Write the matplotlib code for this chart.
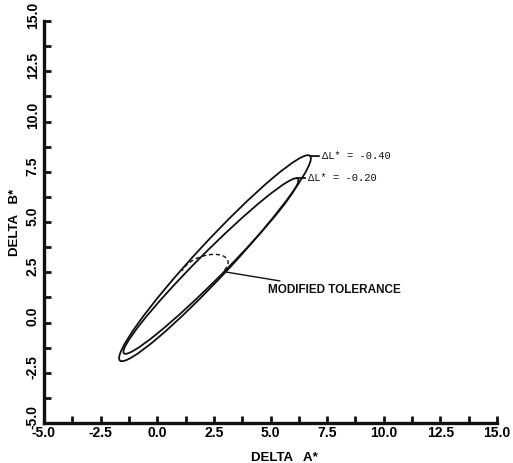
import matplotlib
matplotlib.use("Agg")
import matplotlib.pyplot as plt
from matplotlib.patches import Ellipse, Arc
from matplotlib.ticker import MultipleLocator
from matplotlib.transforms import ScaledTranslation

# tolerance ellipses (data units): centre, full width, full height, angle
ellipse_labels = ["\u0394L* = -0.40", "\u0394L* = -0.20"]
ellipse_centers = [(2.55, 3.20), (2.37, 2.81)]
ellipse_widths = [13.2, 11.6]
ellipse_heights = [1.60, 1.25]
ellipse_angles = [50.6, 48.6]
label_tips = [(6.74, 8.28), (6.17, 7.19)]
label_pos = [(7.27, 8.28), (6.66, 7.19)]

# modified tolerance (partial dashed ellipse)
mod_center = (2.11, 2.71)
mod_width = 2.15
mod_height = 1.18
mod_angle = 22
mod_theta = (-29, 166)
mod_tip = (3.04, 2.51)
mod_text_pos = (4.89, 1.62)

x_ticks = [-5.0, -2.5, 0.0, 2.5, 5.0, 7.5, 10.0, 12.5, 15.0]
y_ticks = [-5.0, -2.5, 0.0, 2.5, 5.0, 7.5, 10.0, 12.5, 15.0]

bold_font = ["Liberation Sans", "DejaVu Sans"]
mono_font = ["Liberation Mono", "DejaVu Sans Mono"]

fig = plt.figure(figsize=(5.13, 4.63), dpi=100)
ax = fig.add_axes([44 / 513, 40 / 463, 453 / 513, 402 / 463])

for c, w, h, a in zip(ellipse_centers, ellipse_widths, ellipse_heights, ellipse_angles):
    ax.add_patch(Ellipse(c, w, h, angle=a, fill=False, ec="#111111", lw=1.3))

ax.add_patch(Arc(mod_center, mod_width, mod_height, angle=mod_angle,
                 theta1=mod_theta[0], theta2=mod_theta[1],
                 ec="#111111", lw=1.0, ls=(0, (3, 2))))

for lab, tip, pos in zip(ellipse_labels, label_tips, label_pos):
    ax.annotate(lab, xy=tip, xytext=pos, ha="left", va="center",
                fontsize=7.5, family=mono_font, color="#111111",
                arrowprops=dict(arrowstyle="-", color="#111111", lw=1.3,
                                shrinkA=0, shrinkB=0))

ax.annotate("MODIFIED TOLERANCE", xy=mod_tip, xytext=mod_text_pos,
            ha="left", va="center", fontsize=8.5, fontweight="bold",
            family=bold_font, color="#111111",
            arrowprops=dict(arrowstyle="-", color="#111111", lw=1.0,
                            shrinkA=1, shrinkB=0))

ax.set_xlim(-5, 15)
ax.set_ylim(-5, 15)
ax.set_xticks(x_ticks)
ax.set_yticks(y_ticks)
ax.set_xticklabels([f"{v:.1f}" for v in x_ticks])
ax.set_yticklabels([f"{v:.1f}" for v in y_ticks], rotation=90, va="center")
ax.xaxis.set_minor_locator(MultipleLocator(1.25))
ax.yaxis.set_minor_locator(MultipleLocator(1.25))
ax.tick_params(which="both", direction="in", length=5, width=2, color="#111111")
ax.tick_params(axis="x", pad=2)
ax.tick_params(axis="y", pad=3)
for t in ax.get_xticklabels() + ax.get_yticklabels():
    t.set_fontweight("bold")
    t.set_fontsize(10)
    t.set_family(bold_font)

# y labels sit a little above their ticks in the original
shift_up = ScaledTranslation(0, 0.06, fig.dpi_scale_trans)
for t in ax.get_yticklabels():
    t.set_transform(t.get_transform() + shift_up)

for s in ["top", "right"]:
    ax.spines[s].set_visible(False)
for s in ["left", "bottom"]:
    ax.spines[s].set_linewidth(2.4)
    ax.spines[s].set_color("#111111")

ax.set_xlabel("DELTA   A*", fontsize=9.5, fontweight="bold", family=bold_font)
ax.set_ylabel("DELTA   B*", fontsize=9.5, fontweight="bold", family=bold_font)
ax.xaxis.set_label_coords(0.53, -0.072)
ax.yaxis.set_label_coords(-0.051, 0.5)

fig.savefig("out.png", dpi=100)
